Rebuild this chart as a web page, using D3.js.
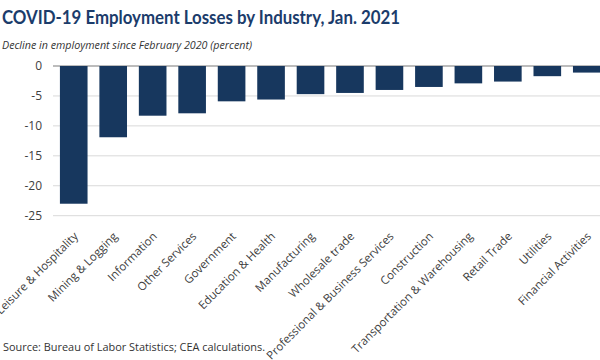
<!DOCTYPE html>
<html>
<head>
<meta charset="utf-8">
<script src="https://cdn.jsdelivr.net/npm/d3@7"></script>
<style>
  body { margin: 0; background: #fff; }
  svg { display: block; }
  .title { font-family: Lato, "Open Sans", sans-serif; font-weight: bold; font-size: 19px; fill: #1b3c6b; }
  .subtitle { font-family: "Open Sans", sans-serif; font-style: italic; font-size: 11.5px; fill: #333; }
  .tick-label { font-family: "Open Sans", sans-serif; font-size: 12px; fill: #404040; }
  .cat-label { font-family: "Open Sans", sans-serif; font-size: 11.5px; fill: #404040; }
  .source { font-family: "Open Sans", sans-serif; font-size: 10.5px; fill: #333; }
</style>
</head>
<body>
<div id="chart"></div>
<script>
const categories = [
  'Leisure & Hospitality', 'Mining & Logging', 'Information', 'Other Services',
  'Government', 'Education & Health', 'Manufacturing', 'Wholesale trade',
  'Professional & Business Services', 'Construction', 'Transportation & Warehousing',
  'Retail Trade', 'Utilities', 'Financial Activities'
];
const losses = [-23.0, -11.9, -8.3, -7.9, -5.9, -5.6, -4.7, -4.5, -4.0, -3.5, -2.9, -2.6, -1.7, -1.1];
const yTicks = [0, -5, -10, -15, -20, -25];

const W = 600, H = 360;
const svg = d3.select('#chart').append('svg')
  .attr('width', W)
  .attr('height', H);

const x = d3.scaleBand()
  .domain(categories)
  .range([54, 606.5])
  .paddingInner(0.3)
  .paddingOuter(0.15);

const y = d3.scaleLinear()
  .domain([-25, 0])
  .range([215.7, 66]);

// gridlines + tick labels
const gG = svg.append('g');
yTicks.forEach((t) => {
  gG.append('line')
    .attr('x1', 53)
    .attr('x2', W)
    .attr('y1', y(t))
    .attr('y2', y(t))
    .attr('stroke', t === 0 ? '#a6a6a6' : '#d9d9d9')
    .attr('stroke-width', t === 0 ? 1.5 : 1);

  svg.append('text')
    .attr('class', 'tick-label')
    .attr('x', 42)
    .attr('y', y(t))
    .attr('dy', '0.35em')
    .attr('text-anchor', 'end')
    .text(t);
});

// bars
svg.append('g').selectAll('rect')
  .data(losses)
  .join('rect')
  .attr('x', (d, i) => x(categories[i]))
  .attr('width', x.bandwidth())
  .attr('y', y(0))
  .attr('height', (d) => y(d) - y(0))
  .attr('fill', '#17375e');

// category labels, rotated like the excel axis
svg.append('g').selectAll('text')
  .data(categories)
  .join('text')
  .attr('class', 'cat-label')
  .attr('text-anchor', 'end')
  .attr('transform', (d) => `translate(${x(d) + x.bandwidth() / 2 + 5},${237}) rotate(-45)`)
  .text((d) => d);

svg.append('text')
  .attr('class', 'title')
  .attr('x', 2)
  .attr('y', 24)
  .attr('textLength', 398)
  .attr('lengthAdjust', 'spacingAndGlyphs')
  .text('COVID-19 Employment Losses by Industry, Jan. 2021');

svg.append('text')
  .attr('class', 'subtitle')
  .attr('x', 2)
  .attr('y', 49)
  .attr('textLength', 250)
  .attr('lengthAdjust', 'spacingAndGlyphs')
  .text('Decline in employment since February 2020 (percent)');

svg.append('text')
  .attr('class', 'source')
  .attr('x', 3)
  .attr('y', 351)
  .attr('textLength', 262)
  .attr('lengthAdjust', 'spacingAndGlyphs')
  .text('Source: Bureau  of Labor Statistics; CEA calculations.');
</script>
</body>
</html>
